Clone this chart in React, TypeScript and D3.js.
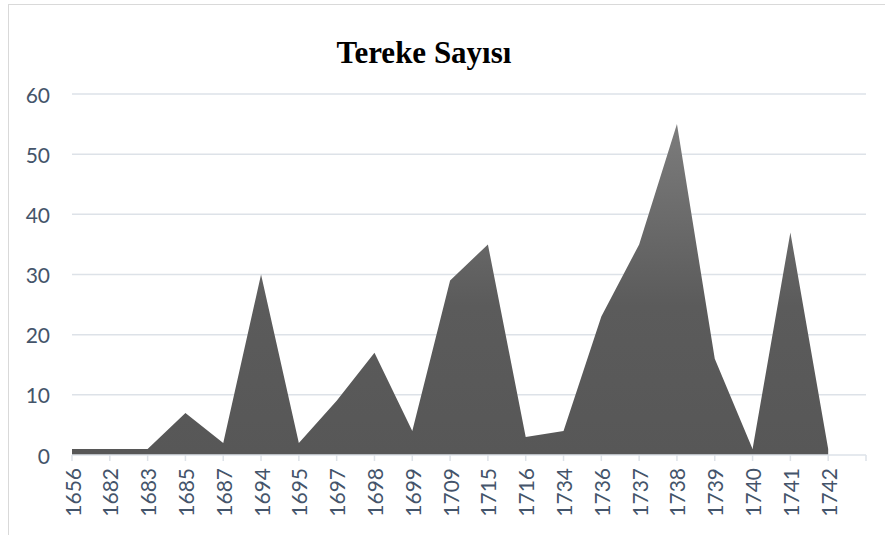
import * as d3 from 'd3';

const WIDTH = 885;
const HEIGHT = 535;
const MARGIN = { top: 94, right: 19, bottom: 80, left: 72 };

const years = [
    '1656', '1682', '1683', '1685', '1687', '1694', '1695', '1697', '1698', '1699', '1709',
    '1715', '1716', '1734', '1736', '1737', '1738', '1739', '1740', '1741', '1742',
];
const counts = [1, 1, 1, 7, 2, 30, 2, 9, 17, 4, 29, 35, 3, 4, 23, 35, 55, 16, 1, 37, 1];
const yTicks = [0, 10, 20, 30, 40, 50, 60];

const TEXT = '#44546a';
const GRID = '#dde2e8';
const FONT = 'Lato, "Open Sans", sans-serif';

export default function App() {
    const boundsWidth = WIDTH - MARGIN.left - MARGIN.right;
    const boundsHeight = 455 - MARGIN.top;

    // one empty slot after the last year, like the category axis in the original
    const xScale = d3.scaleLinear().domain([0, years.length]).range([0, boundsWidth]);
    const yScale = d3.scaleLinear().domain([0, 60]).range([boundsHeight, 0]);

    const area = d3
        .area<number>()
        .x((_, i) => xScale(i))
        .y0(yScale(0))
        .y1((d) => yScale(d));

    const tickIdx = d3.range(years.length + 1);

    return (
        <svg width={WIDTH} height={HEIGHT} style={{ position: 'absolute', left: 0, top: 0 }}>
            <rect x={8.5} y={4.5} width={WIDTH} height={HEIGHT} fill="white" stroke="#d9d9d9" />
            <text
                x={424}
                y={63}
                textAnchor="middle"
                fontFamily='"Liberation Serif", "Times New Roman", serif'
                fontWeight="bold"
                fontSize={31}
                fill="#000"
            >
                Tereke Sayısı
            </text>
            <defs>
                <linearGradient
                    id="fillGrad"
                    gradientUnits="userSpaceOnUse"
                    x1={0}
                    x2={0}
                    y1={yScale(55)}
                    y2={yScale(0)}
                >
                    <stop offset="0" stopColor="#7c7c7c" />
                    <stop offset="0.55" stopColor="#5b5b5b" />
                    <stop offset="1" stopColor="#575757" />
                </linearGradient>
            </defs>
            <g transform={`translate(${MARGIN.left},${MARGIN.top})`}>
                {yTicks.map((t) => (
                    <g key={t}>
                        {t > 0 && (
                            <line x1={0} x2={boundsWidth} y1={yScale(t)} y2={yScale(t)} stroke={GRID} strokeWidth={1.5} />
                        )}
                        <text
                            x={-22}
                            y={yScale(t)}
                            textAnchor="end"
                            dominantBaseline="central"
                            fontFamily={FONT}
                            fontSize={21}
                            fill={TEXT}
                        >
                            {t}
                        </text>
                    </g>
                ))}
                <path d={area(counts) ?? ''} fill="url(#fillGrad)" />
                <line x1={0} x2={boundsWidth} y1={yScale(0)} y2={yScale(0)} stroke={GRID} strokeWidth={1.5} />
                {tickIdx.map((i) => (
                    <line
                        key={i}
                        x1={xScale(i)}
                        x2={xScale(i)}
                        y1={yScale(0)}
                        y2={yScale(0) + 6}
                        stroke={GRID}
                        strokeWidth={1.5}
                    />
                ))}
                {years.map((yr, i) => (
                    <text
                        key={yr}
                        transform={`translate(${xScale(i)},${yScale(0) + 13}) rotate(-90)`}
                        textAnchor="end"
                        dominantBaseline="central"
                        fontFamily={FONT}
                        fontSize={21}
                        fill={TEXT}
                    >
                        {yr}
                    </text>
                ))}
            </g>
        </svg>
    );
}
